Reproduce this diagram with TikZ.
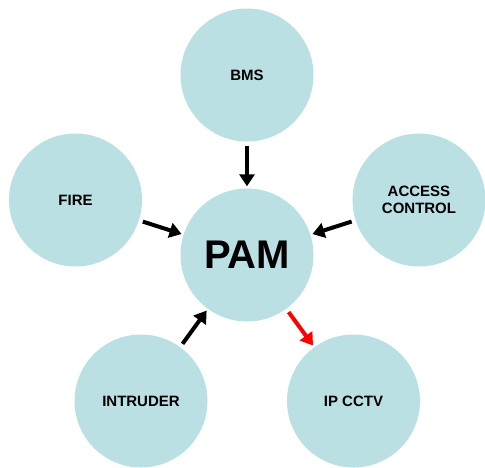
\documentclass[tikz,border=0pt]{standalone}
\usepackage{fontspec}
\setmainfont{Liberation Sans}
\usetikzlibrary{arrows.meta}
\definecolor{bubble}{RGB}{186,224,228}
\definecolor{redarrow}{RGB}{255,0,0}
\tikzset{
  bubblenode/.style={circle, fill=bubble, draw=none, minimum size=133pt, inner sep=0pt, align=center, font=\bfseries\fontsize{15}{17}\selectfont},
  flowarrow/.style={line width=4pt, -{Triangle[length=12pt,width=15pt]}, shorten <=4pt, shorten >=2pt},
}
\begin{document}
\begin{tikzpicture}[x=1pt,y=-1pt]
\path[use as bounding box] (0,0) rectangle (485,467);
\node[bubblenode] (bms) at (247,75) {BMS};
\node[bubblenode] (fire) at (75.5,200) {FIRE};
\node[bubblenode] (access) at (419,200) {ACCESS\\CONTROL};
\node[bubblenode, font=\bfseries\fontsize{40}{42}\selectfont] (pam) at (247,255) {PAM};
\node[bubblenode] (intruder) at (141,401) {INTRUDER};
\node[bubblenode] (cctv) at (353.5,401) {IP CCTV};
\draw[flowarrow] (bms) -- (pam);
\draw[flowarrow] (fire) -- (pam);
\draw[flowarrow] (access) -- (pam);
\draw[flowarrow] (intruder) -- (pam);
\draw[flowarrow, draw=redarrow, fill=redarrow] (pam) -- (cctv);
\end{tikzpicture}
\end{document}
